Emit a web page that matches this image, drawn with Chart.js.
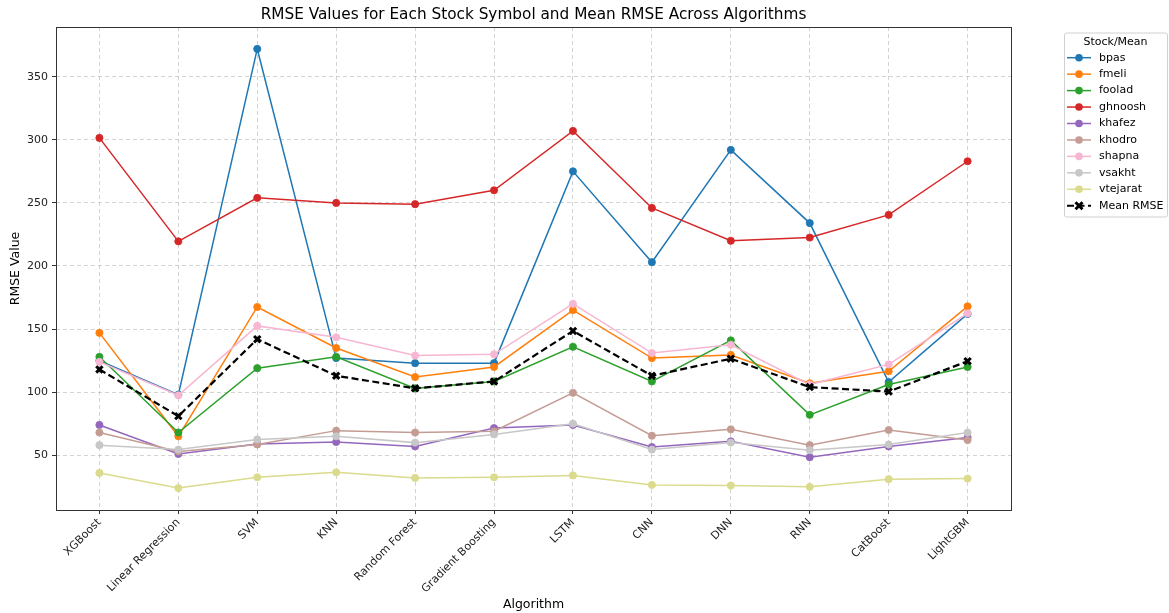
<!DOCTYPE html>
<html><head><meta charset="utf-8">
<script src="https://cdn.jsdelivr.net/npm/chart.js@4"></script>
<style>html,body{margin:0;padding:0;background:#fff}#wrap{width:1169px;height:613px;position:relative}</style>
</head><body><div id="wrap"><canvas id="c" width="1169" height="613"></canvas></div>
<script>
const algorithms = ["XGBoost","Linear Regression","SVM","KNN","Random Forest","Gradient Boosting","LSTM","CNN","DNN","RNN","CatBoost","LightGBM"];
const bpas     = [125, 98, 372, 127, 123, 123, 275, 203, 292, 234, 108, 162];
const fmeli    = [147, 65, 167.5, 135, 112, 120, 165, 127, 129.5, 107, 116.5, 168];
const foolad   = [128, 68, 119, 128, 103, 108.5, 136, 108.5, 141, 82, 106, 120];
const ghnoosh  = [301.5, 219.5, 254, 250, 249, 260, 307, 246, 220, 222.5, 240.5, 283];
const khafez   = [74, 51, 59, 60.5, 57, 71.5, 74, 56.5, 61, 48.5, 57, 64];
const khodro   = [68, 53, 58.5, 69.5, 68, 69, 99.5, 65.5, 70.5, 58, 70, 62];
const shapna   = [124, 97.5, 152.5, 143.5, 129, 130, 170, 131, 137.5, 106, 122, 162.5];
const vsakht   = [58, 54.5, 62.5, 65, 60, 66.5, 75, 54.5, 60, 54, 58.5, 68];
const vtejarat = [36, 24, 32.5, 36.5, 32, 32.5, 34, 26.5, 26, 25, 31, 31.5];
const meanRMSE = [118, 81, 142, 113, 103, 108.5, 148.5, 113, 126.5, 104, 100.5, 124.5];
const yTicks = [50, 100, 150, 200, 250, 300, 350];

const seriesNames  = ["bpas","fmeli","foolad","ghnoosh","khafez","khodro","shapna","vsakht","vtejarat"];
const seriesValues = [bpas, fmeli, foolad, ghnoosh, khafez, khodro, shapna, vsakht, vtejarat];
const seriesColors = ["#1f77b4","#ff7f0e","#2ca02c","#d62728","#9467bd","#c49c94","#f7b6d2","#c7c7c7","#dbdb8d"];

const FONT = "'DejaVu Sans', sans-serif";
const toPts = vals => vals.map((v, i) => ({x: i, y: v}));

const datasets = seriesNames.map((n, k) => ({
  label: n,
  data: toPts(seriesValues[k]),
  borderColor: seriesColors[k],
  backgroundColor: seriesColors[k],
  borderWidth: 1.5,
  pointRadius: 3.6,
  pointBorderWidth: 0.8,
  pointStyle: 'circle',
  tension: 0,
  order: 20 - k
}));
datasets.push({
  label: "Mean RMSE",
  data: toPts(meanRMSE),
  borderColor: "#000",
  backgroundColor: "#000",
  borderWidth: 2.2,
  borderDash: [7, 3.5],
  pointStyle: 'crossRot',
  pointRadius: 4.5,
  pointBorderWidth: 3,
  tension: 0,
  order: 1
});

const deco = {
  id: 'deco',
  afterDraw(chart) {
    const ctx = chart.ctx, a = chart.chartArea;
    ctx.save();
    ctx.strokeStyle = '#333'; ctx.lineWidth = 1; ctx.setLineDash([]);
    ctx.strokeRect(Math.round(a.left) + 0.5, Math.round(a.top) + 0.5, Math.round(a.right - a.left), Math.round(a.bottom - a.top));
    ctx.fillStyle = '#000';
    ctx.textAlign = 'center'; ctx.textBaseline = 'middle';
    ctx.font = `15.3px ${FONT}`;
    ctx.fillText("RMSE Values for Each Stock Symbol and Mean RMSE Across Algorithms", (a.left + a.right) / 2, 15);
    ctx.font = `12.5px ${FONT}`;
    ctx.fillText("Algorithm", (a.left + a.right) / 2, 605);
    ctx.save();
    ctx.translate(16, (a.top + a.bottom) / 2);
    ctx.rotate(-Math.PI / 2);
    ctx.fillText("RMSE Value", 0, 0);
    ctx.restore();
    const lx = 1064, ly = 32.5, lw = 103, lh = 184;
    ctx.beginPath();
    ctx.roundRect(lx + 0.5, ly + 0.5, lw, lh, 2);
    ctx.fillStyle = 'rgba(255,255,255,0.8)'; ctx.fill();
    ctx.strokeStyle = '#d0d0d0'; ctx.lineWidth = 1; ctx.stroke();
    ctx.fillStyle = '#000'; ctx.font = `11px ${FONT}`;
    ctx.textAlign = 'center';
    ctx.fillText("Stock/Mean", lx + lw / 2, 42.5);
    ctx.textAlign = 'left';
    chart.data.datasets.forEach((d, i) => {
      const y = 57.7 + i * 16.45;
      ctx.strokeStyle = d.borderColor; ctx.lineWidth = d.borderWidth;
      ctx.setLineDash(d.borderDash || []);
      ctx.beginPath(); ctx.moveTo(1067, y); ctx.lineTo(1091, y); ctx.stroke();
      ctx.setLineDash([]);
      if (d.pointStyle === 'circle') {
        ctx.fillStyle = d.backgroundColor;
        ctx.beginPath(); ctx.arc(1079, y, 3.8, 0, Math.PI * 2); ctx.fill();
      } else {
        ctx.lineWidth = 3; ctx.strokeStyle = '#000';
        ctx.beginPath();
        ctx.moveTo(1075.5, y - 3.5); ctx.lineTo(1082.5, y + 3.5);
        ctx.moveTo(1075.5, y + 3.5); ctx.lineTo(1082.5, y - 3.5);
        ctx.stroke();
      }
      ctx.fillStyle = '#000';
      ctx.textBaseline = 'middle';
      ctx.fillText(d.label, 1099, y);
    });
    ctx.restore();
  }
};

const gridCommon = {
  color: 'rgba(176,176,176,0.7)',
  lineWidth: 0.8,
  drawTicks: true,
  tickLength: 4,
  tickColor: '#333',
  tickWidth: 1,
  tickBorderDash: []
};

new Chart(document.getElementById('c'), {
  type: 'line',
  data: { datasets },
  options: {
    responsive: false,
    animation: false,
    devicePixelRatio: 1,
    layout: { padding: { left: 0, right: 158, top: 27, bottom: 0 } },
    plugins: { legend: { display: false }, title: { display: false }, tooltip: { enabled: false } },
    scales: {
      x: {
        type: 'linear',
        min: -0.55, max: 11.55,
        afterFit(s) { s.height = 103; },
        afterBuildTicks(s) { s.ticks = algorithms.map((_, i) => ({ value: i })); },
        ticks: {
          autoSkip: false, minRotation: 45, maxRotation: 45, padding: 2,
          color: '#222', font: { family: FONT, size: 11 },
          callback: v => algorithms[v]
        },
        grid: { ...gridCommon },
        border: { display: false, dash: [4, 3] }
      },
      y: {
        type: 'linear',
        min: 6.6, max: 389.4,
        afterFit(s) { s.width = 56; },
        afterBuildTicks(s) { s.ticks = yTicks.map(v => ({ value: v })); },
        ticks: { padding: 4, color: '#222', font: { family: FONT, size: 11 } },
        grid: { ...gridCommon },
        border: { display: false, dash: [4, 3] }
      }
    }
  },
  plugins: [deco]
});
</script>
</body></html>
